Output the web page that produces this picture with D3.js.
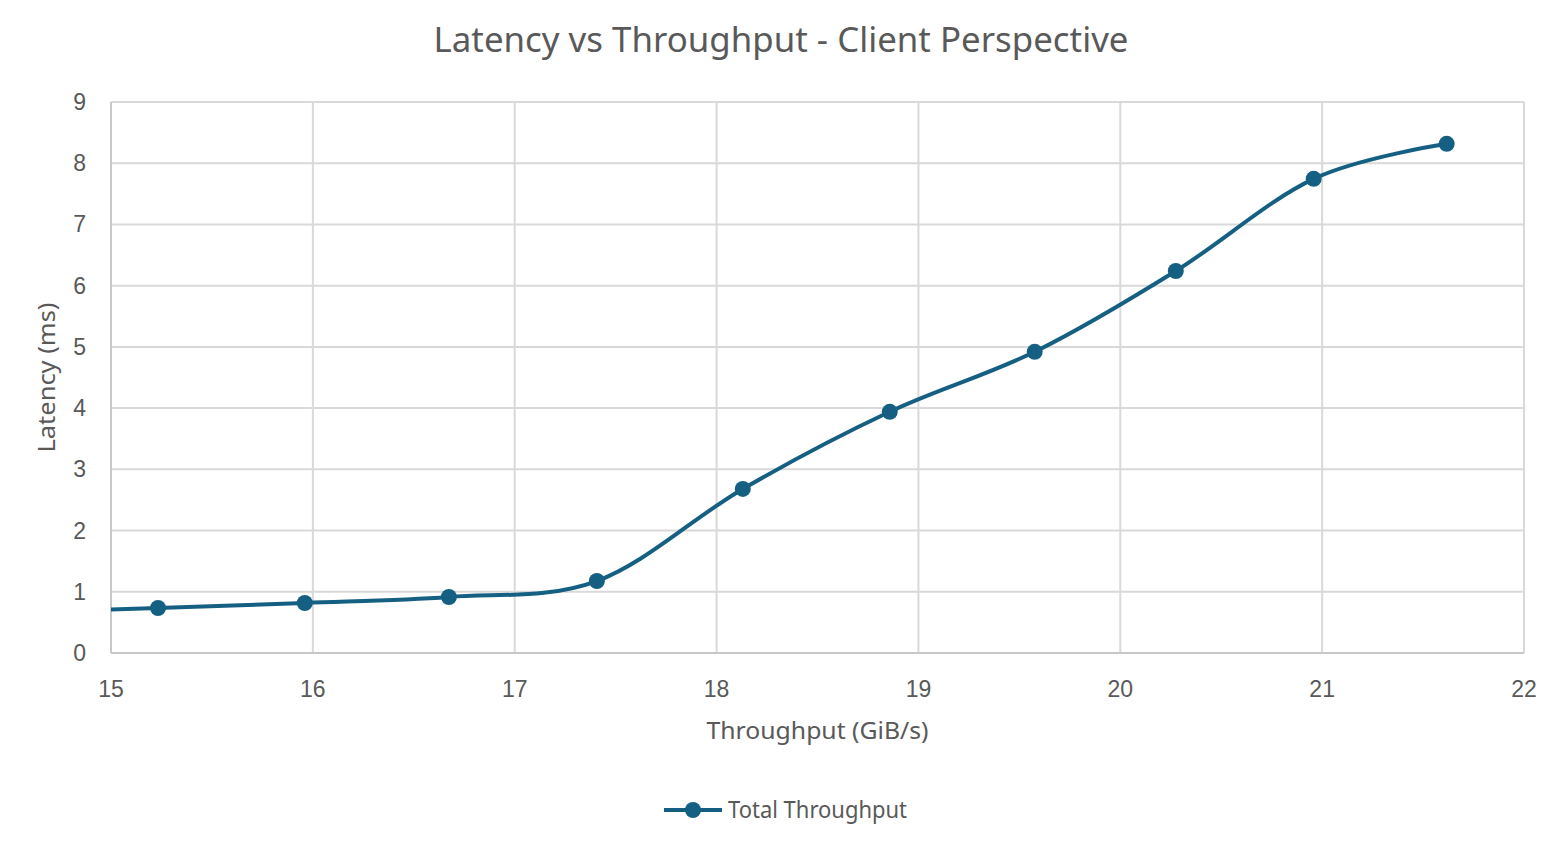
<!DOCTYPE html>
<html>
<head>
<meta charset="utf-8">
<script src="https://cdn.jsdelivr.net/npm/d3@7"></script>
<style>
  body { margin: 0; background: #fff; }
  text { fill: #595959; }
</style>
</head>
<body>
<script>
// chart size
const width = 1560
const height = 850

// data (Excel smoothed scatter)
const throughput = [14.52, 15.233, 15.96, 16.674, 17.407, 18.13, 18.858, 19.576, 20.275, 20.958, 21.617]
const latency = [0.66, 0.735, 0.817, 0.915, 1.176, 2.68, 3.94, 4.92, 6.24, 7.745, 8.317]
const xTicks = [15, 16, 17, 18, 19, 20, 21, 22]
const yTicks = [0, 1, 2, 3, 4, 5, 6, 7, 8, 9]

const seriesName = "Total Throughput"
const color = "#156082"

const margin = {left: 111, right: 36, top: 102, bottom: 197}

const svg = d3.select("body").append("svg")
  .attr("width", width)
  .attr("height", height)

const x = d3.scaleLinear().domain([15, 22]).range([margin.left, width - margin.right])
const y = d3.scaleLinear().domain([0, 9]).range([height - margin.bottom, margin.top])

// gridlines
svg.append("g").selectAll("line")
  .data(xTicks)
  .enter().append("line")
  .attr("x1", d => x(d)).attr("x2", d => x(d))
  .attr("y1", y(9)).attr("y2", y(0))
  .attr("stroke", "#d9d9d9").attr("stroke-width", 2)

svg.append("g").selectAll("line")
  .data(yTicks)
  .enter().append("line")
  .attr("x1", x(15)).attr("x2", x(22))
  .attr("y1", d => y(d)).attr("y2", d => y(d))
  .attr("stroke", "#d9d9d9").attr("stroke-width", 2)

// axis lines a bit darker
svg.append("line")
  .attr("x1", x(15)).attr("x2", x(22)).attr("y1", y(0)).attr("y2", y(0))
  .attr("stroke", "#c8c8c8").attr("stroke-width", 2)
svg.append("line")
  .attr("x1", x(15)).attr("x2", x(15)).attr("y1", y(0)).attr("y2", y(9))
  .attr("stroke", "#c8c8c8").attr("stroke-width", 2)

// tick labels
svg.append("g").selectAll("text")
  .data(xTicks)
  .enter().append("text")
  .attr("x", d => x(d))
  .attr("y", y(0) + 44)
  .attr("text-anchor", "middle")
  .attr("font-family", "Liberation Sans, Arial, sans-serif")
  .attr("font-size", "23px")
  .text(d => d)

svg.append("g").selectAll("text")
  .data(yTicks)
  .enter().append("text")
  .attr("x", x(15) - 25)
  .attr("y", d => y(d) + 8)
  .attr("text-anchor", "end")
  .attr("font-family", "Liberation Sans, Arial, sans-serif")
  .attr("font-size", "23px")
  .text(d => d)

// titles
svg.append("text")
  .attr("x", 781)
  .attr("y", 52)
  .attr("text-anchor", "middle")
  .attr("font-family", "Noto Sans, sans-serif")
  .attr("font-size", "35px")
  .attr("textLength", 695)
  .attr("lengthAdjust", "spacingAndGlyphs")
  .text("Latency vs Throughput - Client Perspective")

svg.append("text")
  .attr("x", (x(15) + x(22)) / 2)
  .attr("y", 739)
  .attr("text-anchor", "middle")
  .attr("font-family", "Noto Sans, sans-serif")
  .attr("font-size", "24px")
  .attr("textLength", 222)
  .attr("lengthAdjust", "spacingAndGlyphs")
  .text("Throughput (GiB/s)")

svg.append("text")
  .attr("transform", "translate(55," + (y(0) + y(9)) / 2 + ") rotate(-90)")
  .attr("text-anchor", "middle")
  .attr("font-family", "Noto Sans, sans-serif")
  .attr("font-size", "24px")
  .attr("textLength", 150)
  .attr("lengthAdjust", "spacingAndGlyphs")
  .text("Latency (ms)")

// series
const points = throughput.map((d, i) => ({x: d, y: latency[i]}))

svg.append("clipPath").attr("id", "plot")
  .append("rect")
  .attr("x", x(15)).attr("y", y(9))
  .attr("width", x(22) - x(15)).attr("height", y(0) - y(9))

const line = d3.line()
  .x(d => x(d.x))
  .y(d => y(d.y))
  .curve(d3.curveCardinal.tension(0))

svg.append("path")
  .datum(points)
  .attr("clip-path", "url(#plot)")
  .attr("d", line)
  .attr("fill", "none")
  .attr("stroke", color)
  .attr("stroke-width", 4)

svg.append("g").selectAll("circle")
  .data(points.filter(d => d.x >= 15))
  .enter().append("circle")
  .attr("cx", d => x(d.x))
  .attr("cy", d => y(d.y))
  .attr("r", 8)
  .attr("fill", color)

// legend
const lg = svg.append("g")
lg.append("line")
  .attr("x1", 664).attr("x2", 722).attr("y1", 810).attr("y2", 810)
  .attr("stroke", color).attr("stroke-width", 4)
lg.append("circle")
  .attr("cx", 693).attr("cy", 810).attr("r", 8)
  .attr("fill", color)
lg.append("text")
  .attr("x", 728).attr("y", 818)
  .attr("font-family", "Noto Sans, sans-serif")
  .attr("font-size", "23px")
  .attr("textLength", 179)
  .attr("lengthAdjust", "spacingAndGlyphs")
  .text(seriesName)
</script>
</body>
</html>
